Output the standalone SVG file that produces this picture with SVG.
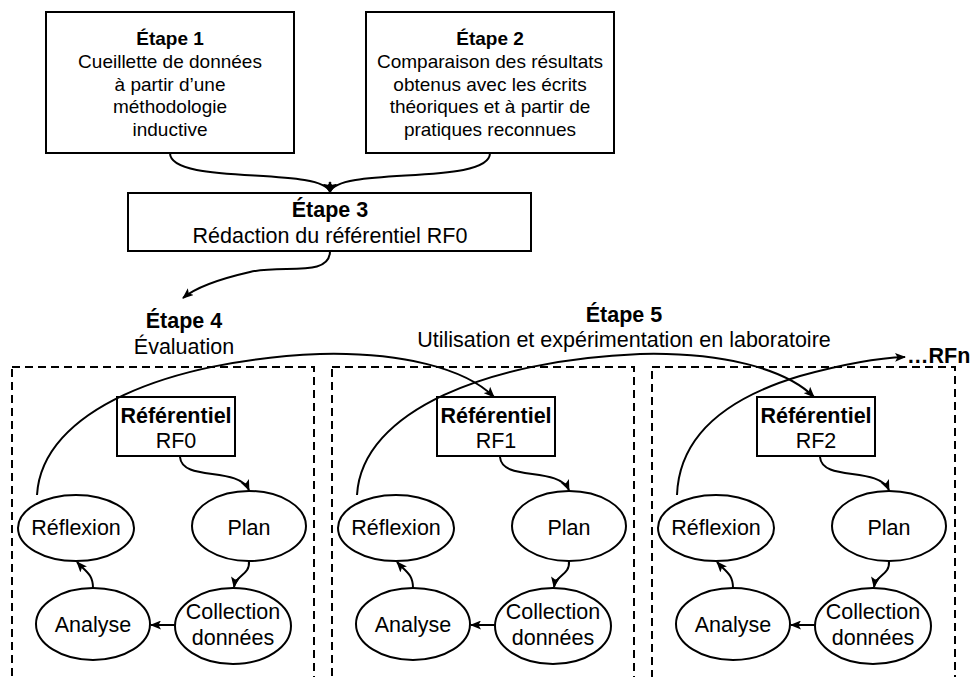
<svg xmlns="http://www.w3.org/2000/svg" width="972" height="677" viewBox="0 0 972 677">
<defs>
<marker id="ah" markerUnits="userSpaceOnUse" markerWidth="11" markerHeight="9" refX="10" refY="4.5" orient="auto">
<path d="M0,0 L11,4.5 L0,9 L2.5,4.5 z" fill="#000"/>
</marker>
<style>
.bx{fill:#fff;stroke:#000;stroke-width:2}
.el{fill:#fff;stroke:#000;stroke-width:2}
.dash{fill:none;stroke:#000;stroke-width:2;stroke-dasharray:8,5}
.c{fill:none;stroke:#000;stroke-width:2;marker-end:url(#ah)}
text{font-family:"Liberation Sans",Arial,sans-serif;fill:#000;text-anchor:middle}
.s{font-size:19px}
.m{font-size:21.5px}
.b{font-weight:bold}
</style>
</defs>
<rect width="972" height="677" fill="#fff"/>

<g id="panels">
<rect class="dash" x="12" y="367" width="302" height="340"/>
<rect class="dash" x="332" y="367" width="302" height="340"/>
<rect class="dash" x="652" y="367" width="303" height="340"/>
</g>

<g id="etape1">
<rect class="bx" x="46" y="12" width="248" height="141"/>
<text class="s b" x="170" y="45">Étape 1</text>
<text class="s" x="170" y="68">Cueillette de données</text>
<text class="s" x="170" y="91">à partir d’une</text>
<text class="s" x="170" y="113">méthodologie</text>
<text class="s" x="170" y="136">inductive</text>
</g>

<g id="etape2">
<rect class="bx" x="366" y="12" width="248" height="141"/>
<text class="s b" x="490" y="45">Étape 2</text>
<text class="s" x="490" y="68">Comparaison des résultats</text>
<text class="s" x="490" y="91">obtenus avec les écrits</text>
<text class="s" x="490" y="113">théoriques et à partir de</text>
<text class="s" x="490" y="136">pratiques reconnues</text>
</g>

<g id="etape3">
<rect class="bx" x="128" y="193" width="403" height="58"/>
<text class="m b" x="330" y="217">Étape 3</text>
<text class="m" x="330" y="243">Rédaction du référentiel RF0</text>
</g>

<g id="etape4">
<text class="m b" x="184" y="328">Étape 4</text>
<text class="m" x="184" y="354">Évaluation</text>
</g>

<g id="etape5">
<text class="m b" x="624" y="322">Étape 5</text>
<text class="m" x="624" y="347">Utilisation et expérimentation en laboratoire</text>
</g>

<g id="rfn">
<text class="m b" x="907" y="363" style="text-anchor:start">…RFn</text>
</g>

<g id="cycle0">
<rect class="bx" x="117" y="397" width="118" height="59"/>
<text class="m b" x="176" y="423">Référentiel</text>
<text class="m" x="176" y="448">RF0</text>
<ellipse class="el" cx="76" cy="528" rx="58" ry="33"/>
<text class="m" x="76" y="535">Réflexion</text>
<ellipse class="el" cx="249" cy="526" rx="57" ry="35"/>
<text class="m" x="249" y="535">Plan</text>
<ellipse class="el" cx="93" cy="624" rx="57" ry="36"/>
<text class="m" x="93" y="632">Analyse</text>
<ellipse class="el" cx="233" cy="626" rx="58" ry="38"/>
<text class="m" x="233" y="619">Collection</text>
<text class="m" x="233" y="645">données</text>
</g>

<g id="cycle1" transform="translate(320,0)">
<rect class="bx" x="117" y="397" width="118" height="59"/>
<text class="m b" x="176" y="423">Référentiel</text>
<text class="m" x="176" y="448">RF1</text>
<ellipse class="el" cx="76" cy="528" rx="58" ry="33"/>
<text class="m" x="76" y="535">Réflexion</text>
<ellipse class="el" cx="249" cy="526" rx="57" ry="35"/>
<text class="m" x="249" y="535">Plan</text>
<ellipse class="el" cx="93" cy="624" rx="57" ry="36"/>
<text class="m" x="93" y="632">Analyse</text>
<ellipse class="el" cx="233" cy="626" rx="58" ry="38"/>
<text class="m" x="233" y="619">Collection</text>
<text class="m" x="233" y="645">données</text>
</g>

<g id="cycle2" transform="translate(640,0)">
<rect class="bx" x="117" y="397" width="118" height="59"/>
<text class="m b" x="176" y="423">Référentiel</text>
<text class="m" x="176" y="448">RF2</text>
<ellipse class="el" cx="76" cy="528" rx="58" ry="33"/>
<text class="m" x="76" y="535">Réflexion</text>
<ellipse class="el" cx="249" cy="526" rx="57" ry="35"/>
<text class="m" x="249" y="535">Plan</text>
<ellipse class="el" cx="93" cy="624" rx="57" ry="36"/>
<text class="m" x="93" y="632">Analyse</text>
<ellipse class="el" cx="233" cy="626" rx="58" ry="38"/>
<text class="m" x="233" y="619">Collection</text>
<text class="m" x="233" y="645">données</text>
</g>

<g id="connectors">
<path class="c" d="M170,153 C170,186 322,166 330,192"/>
<path class="c" d="M490,153 C490,186 338,166 330,192"/>
<path class="c" d="M330,251 C330,278 282,264 250,272 C215,280 195,288 183,298"/>
<path class="c" d="M37,495 C42,410 170,360 320,354 C400,352 465,368 494,397"/>
<path class="c" d="M357,495 C362,410 490,360 640,354 C720,352 785,368 814,397"/>
<path class="c" d="M677,495 C679,440 720,400 800,376 C840,365 875,358 905,357"/>
<g>
<path class="c" d="M180,457 C182,482 238,466 249,490"/>
<path class="c" d="M249,561 C250,576 236,574 234,587"/>
<path class="c" d="M175,625 L151,625"/>
<path class="c" d="M93,588 C93,574 86,572 77,562"/>
</g>
<g transform="translate(320,0)">
<path class="c" d="M180,457 C182,482 238,466 249,490"/>
<path class="c" d="M249,561 C250,576 236,574 234,587"/>
<path class="c" d="M175,625 L151,625"/>
<path class="c" d="M93,588 C93,574 86,572 77,562"/>
</g>
<g transform="translate(640,0)">
<path class="c" d="M180,457 C182,482 238,466 249,490"/>
<path class="c" d="M249,561 C250,576 236,574 234,587"/>
<path class="c" d="M175,625 L151,625"/>
<path class="c" d="M93,588 C93,574 86,572 77,562"/>
</g>
</g>
</svg>
